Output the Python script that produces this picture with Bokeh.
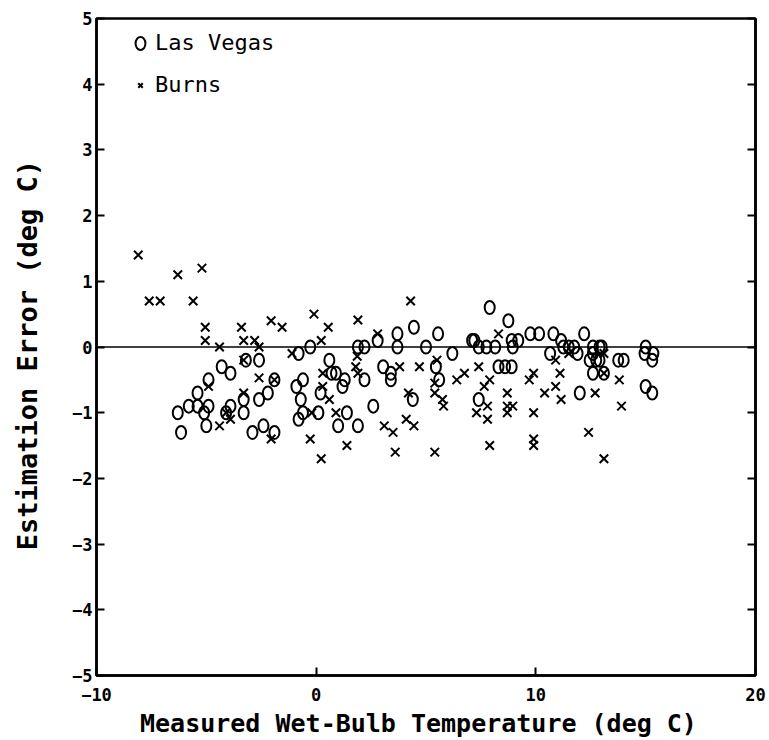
from bokeh.plotting import figure
from bokeh.models import (LinearAxis, Span, Legend, LegendItem, FixedTicker,
                          CustomJSTickFormatter, Range1d, ColumnDataSource)
from bokeh.embed import file_html
from bokeh.resources import INLINE

# Las Vegas (circles)
lv_x = [-6.3, -6.15, -5.8, -5.4, -5.4, -5.1, -5.0, -4.9, -4.9, -4.3, -4.1, -3.9, -3.9,
        -3.3, -3.3, -3.2, -2.9, -2.6, -2.6, -2.4, -2.2, -1.9, -1.9, -0.9, -0.8, -0.8,
        -0.7, -0.6, -0.6, -0.27, 0.1, 0.2, 0.6, 0.7, 0.9, 1.0, 1.2, 1.3, 1.4, 1.9, 1.9,
        2.2, 2.2, 2.6, 2.8, 3.05, 3.4, 3.4, 3.7, 3.7, 4.4, 4.45, 5.0, 5.45, 5.55, 5.6,
        6.2, 7.1, 7.2, 7.4, 7.4, 7.75, 7.9, 8.15, 8.3, 8.6, 8.75, 8.9, 8.9, 8.95, 9.2,
        9.75, 10.15, 10.65, 10.8, 11.15, 11.25, 11.5, 11.75, 11.9, 12.0, 12.2, 12.45,
        12.6, 12.6, 12.6, 12.75, 12.9, 12.9, 13.0, 13.1, 13.75, 14.0, 14.95, 15.0, 15.0,
        15.3, 15.35, 15.3]
lv_y = [-1.0, -1.3, -0.9, -0.9, -0.7, -1.0, -1.2, -0.9, -0.5, -0.3, -1.0, -0.4, -0.9,
        -0.8, -1.0, -0.2, -1.3, -0.2, -0.8, -1.2, -0.7, -1.3, -0.5, -0.6, -0.1, -1.1,
        -0.8, -0.5, -1.0, 0.0, -1.0, -0.7, -0.2, -0.4, -0.4, -1.2, -0.6, -0.5, -1.0, 0.0, -1.2,
        0.0, -0.5, -0.9, 0.1, -0.3, -0.4, -0.5, 0.2, 0.0, -0.8, 0.3, 0.0, -0.3, 0.2, -0.5,
        -0.1, 0.1, 0.1, 0.0, -0.8, 0.0, 0.6, 0.0, -0.3, -0.3, 0.4, -0.3, 0.1, 0.0, 0.1,
        0.2, 0.2, -0.1, 0.2, 0.1, 0.0, 0.0, 0.0, -0.1, -0.7, 0.2, -0.2,
        0.0, -0.1, -0.4, -0.2, 0.0, -0.2, 0.0, -0.4, -0.2, -0.2, -0.1, 0.0, -0.6,
        -0.2, -0.1, -0.7]

# Burns (crosses)
bu_x = [-8.1, -7.6, -7.1, -6.3, -5.6, -5.2, -5.05, -5.05, -4.9, -4.4, -4.4, -4.1, -3.9,
        -3.4, -3.3, -3.3, -3.3, -2.8, -2.6, -2.6, -2.05, -2.05, -1.9, -1.55, -1.1, -0.27,
        -0.2, -0.1, 0.23, 0.23, 0.3, 0.3, 0.55, 0.6, 0.9, 1.4, 1.8, 1.87, 1.9, 1.9, 2.8,
        3.1, 3.5, 3.6, 3.8, 4.1, 4.2, 4.3, 4.45, 4.7, 5.4, 5.4, 5.4, 5.5, 5.75, 5.8, 6.4,
        6.75, 7.3, 7.4, 7.65, 7.8, 7.8, 7.9, 7.9, 8.3, 8.7, 8.7, 8.95, 8.7, 9.7, 9.9, 9.9,
        9.9, 9.9, 10.4, 10.9, 10.9, 11.1, 11.15, 11.5, 12.4, 12.7, 13.1, 13.1, 13.1, 13.8,
        13.9]
bu_y = [1.4, 0.7, 0.7, 1.1, 0.7, 1.2, 0.3, 0.1, -0.6, 0.0, -1.2, -1.0, -1.1,
        0.3, 0.1, -0.2, -0.7, 0.1, 0.0, -0.47, 0.4, -1.4, -0.5, 0.3, -0.1, -1.4,
        -1.0, 0.5, 0.1, -1.7, -0.4, -0.6, 0.3, -0.8, -1.0, -1.5, -0.3, -0.14, 0.41, -0.4, 0.2,
        -1.2, -1.3, -1.6, -0.3, -1.1, -0.7, 0.7, -1.2, -0.3, -0.55, -0.7, -1.6, -0.2, -0.8, -0.9, -0.5,
        -0.4, -1.0, -0.3, -0.6, -0.9, -1.1, -0.5, -1.5, 0.2, -0.7, -0.9, -0.9, -1.0, -0.5, -0.4, -1.0,
        -1.4, -1.5, -0.7, -0.2, -0.6, -0.4, -0.8, -0.1, -1.3, -0.7, -0.1, -0.4, -1.7, -0.5,
        -0.9]

x_ticks = [-10, 0, 10, 20]
y_ticks = [-5, -4, -3, -2, -1, 0, 1, 2, 3, 4, 5]

MONO = "DejaVu Sans Mono"

p = figure(width=769, height=740, x_range=Range1d(-10, 20), y_range=Range1d(-5, 5),
           output_backend="svg", toolbar_location=None,
           min_border_left=96, min_border_right=14, min_border_top=18, min_border_bottom=65,
           background_fill_color="white", border_fill_color="white")
p.grid.visible = False
p.outline_line_color = "black"
p.outline_line_width = 2.5

for ax in (p.xaxis[0], p.yaxis[0]):
    ax.axis_line_width = 2.5
    ax.major_tick_line_width = 2
    ax.major_tick_in = 8
    ax.major_tick_out = 0
    ax.minor_tick_line_color = None
    ax.major_label_text_font = MONO
    ax.major_label_text_font_style = "bold"
    ax.major_label_text_font_size = "17px"
    ax.major_label_text_color = "black"
    ax.axis_label_text_font = MONO
    ax.axis_label_text_font_style = "bold"
    ax.axis_label_text_color = "black"

p.xaxis.ticker = FixedTicker(ticks=x_ticks)
p.yaxis.ticker = FixedTicker(ticks=y_ticks)
p.xaxis.axis_label = "Measured Wet-Bulb Temperature  (deg C)"
p.yaxis.axis_label = "Estimation Error  (deg C)"
p.xaxis.axis_label_text_font_size = "25px"
p.yaxis.axis_label_text_font_size = "27px"
p.xaxis.major_label_standoff = 12
p.yaxis.major_label_standoff = 4
p.xaxis.axis_label_standoff = 5
p.yaxis.axis_label_standoff = 26

right = LinearAxis(ticker=FixedTicker(ticks=y_ticks),
                   formatter=CustomJSTickFormatter(code="return ''"))
right.axis_line_width = 2.5
right.major_tick_line_width = 2
right.major_tick_in = 8
right.major_tick_out = 0
right.minor_tick_line_color = None
p.add_layout(right, "right")

p.add_layout(Span(location=0, dimension="width", line_color="black", line_width=1.5))

lv_src = ColumnDataSource(dict(x=lv_x, y=lv_y))
bu_src = ColumnDataSource(dict(x=bu_x, y=bu_y))
r_lv = p.ellipse(x="x", y="y", width=10, height=13, width_units="screen", height_units="screen",
                 source=lv_src, fill_color=None, line_color="black", line_width=2)
r_bu = p.scatter(x="x", y="y", marker="x", size=12, source=bu_src,
                 line_color="black", line_width=2)

legend = Legend(items=[LegendItem(label="Las Vegas", renderers=[r_lv]),
                       LegendItem(label="Burns", renderers=[r_bu])],
                location=(36, 578), padding=5, margin=0, spacing=17,
                glyph_width=16, glyph_height=20, label_height=20, label_standoff=7,
                label_text_font=MONO, label_text_font_size="22px",
                label_text_color="black",
                border_line_color=None, background_fill_alpha=0)
p.add_layout(legend)

open("out.html", "w").write(file_html(p, INLINE))
